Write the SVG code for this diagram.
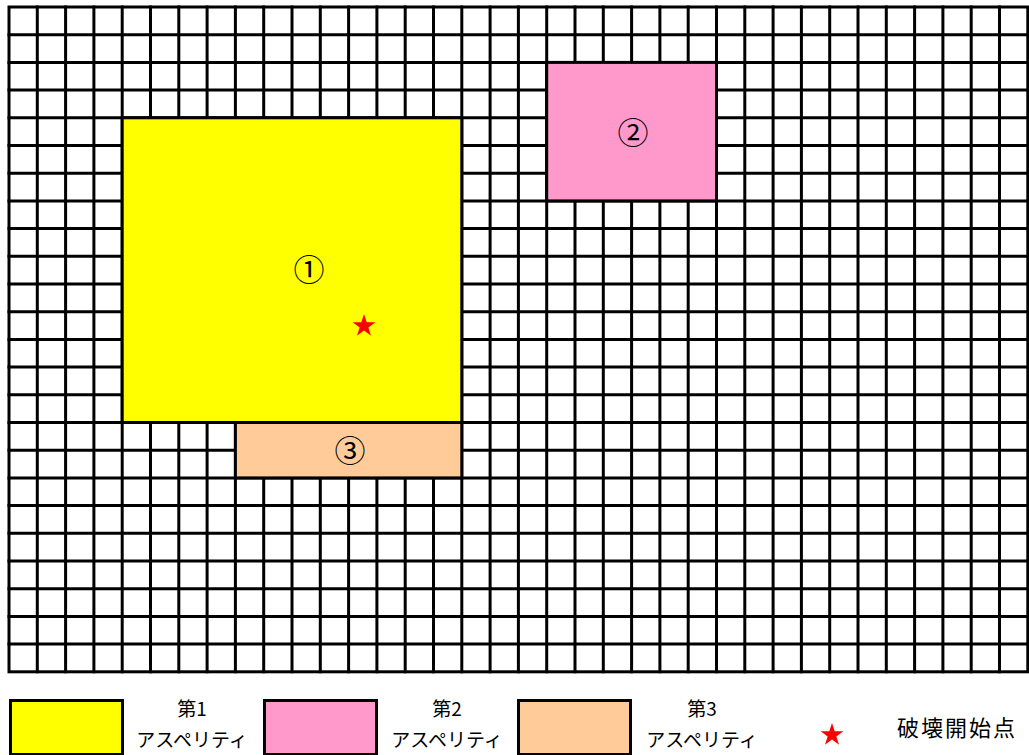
<svg xmlns="http://www.w3.org/2000/svg" xmlns:xlink="http://www.w3.org/1999/xlink" width="1029" height="755" viewBox="0 0 1029 755">
<style>
.grid{fill:none;stroke:#000;stroke-width:3;stroke-linecap:square}
.area{stroke:#000;stroke-width:3}
.num{font-family:"Noto Sans CJK JP","Liberation Sans",sans-serif;font-size:31px;fill:#000;text-anchor:middle}
.lg{font-family:"Noto Sans CJK JP","Liberation Sans",sans-serif;font-size:19px;fill:#000;text-anchor:middle}
.lg2{font-family:"Noto Sans CJK JP","Liberation Sans",sans-serif;font-size:22px;fill:#000;letter-spacing:2px}
.star{fill:#FF0000}
</style>
<defs>
<polygon id="star" points="0,-12 2.7,-3.72 11.41,-3.71 4.37,1.42 7.05,9.71 0,4.6 -7.05,9.71 -4.37,1.42 -11.41,-3.71 -2.7,-3.72"/>
</defs>
<rect width="1029" height="755" fill="#fff"/>
<g id="grid">
<path class="grid" d="M37.3 7V671.8M65.6 7V671.8M93.9 7V671.8M122.2 7V671.8M150.5 7V671.8M178.8 7V671.8M207.1 7V671.8M235.4 7V671.8M263.7 7V671.8M292 7V671.8M320.3 7V671.8M348.6 7V671.8M376.9 7V671.8M405.2 7V671.8M433.5 7V671.8M461.8 7V671.8M490.1 7V671.8M518.4 7V671.8M546.7 7V671.8M575 7V671.8M603.3 7V671.8M631.6 7V671.8M659.9 7V671.8M688.2 7V671.8M716.5 7V671.8M744.8 7V671.8M773.1 7V671.8M801.4 7V671.8M829.7 7V671.8M858 7V671.8M886.3 7V671.8M914.6 7V671.8M942.9 7V671.8M971.2 7V671.8M999.5 7V671.8"/>
<path class="grid" d="M9 34.7H1027.8M9 62.4H1027.8M9 90.1H1027.8M9 117.8H1027.8M9 145.5H1027.8M9 173.2H1027.8M9 200.9H1027.8M9 228.6H1027.8M9 256.3H1027.8M9 284H1027.8M9 311.7H1027.8M9 339.4H1027.8M9 367.1H1027.8M9 394.8H1027.8M9 422.5H1027.8M9 450.2H1027.8M9 477.9H1027.8M9 505.6H1027.8M9 533.3H1027.8M9 561H1027.8M9 588.7H1027.8M9 616.4H1027.8M9 644.1H1027.8"/>
<rect class="grid" x="9" y="7" width="1018.8" height="664.8"/>
</g>
<g id="asperity1">
<rect class="area" x="122.2" y="117.8" width="339.6" height="304.7" fill="#FFFF00"/>
<text class="num" x="309" y="281">①</text>
</g>
<g id="asperity2">
<rect class="area" x="546.7" y="62.4" width="169.8" height="138.5" fill="#FF99CC"/>
<text class="num" x="633" y="144">②</text>
</g>
<g id="asperity3">
<rect class="area" x="235.4" y="422.5" width="226.4" height="55.4" fill="#FFCC99"/>
<text class="num" x="350" y="462">③</text>
</g>
<g id="hypocenter">
<use xlink:href="#star" class="star" transform="translate(364,326)"/>
</g>
<g id="legend">
<rect class="area" x="10.5" y="700.5" width="112" height="54" fill="#FFFF00"/>
<text class="lg" x="192" y="716">第1</text>
<text class="lg" x="192" y="747">アスペリティ</text>
<rect class="area" x="264.5" y="700.5" width="112" height="54" fill="#FF99CC"/>
<text class="lg" x="447" y="716">第2</text>
<text class="lg" x="447" y="747">アスペリティ</text>
<rect class="area" x="518.5" y="700.5" width="112" height="54" fill="#FFCC99"/>
<text class="lg" x="702" y="716">第3</text>
<text class="lg" x="702" y="747">アスペリティ</text>
<use xlink:href="#star" class="star" transform="translate(832,735)"/>
<text class="lg2" x="897" y="736">破壊開始点</text>
</g>
</svg>
